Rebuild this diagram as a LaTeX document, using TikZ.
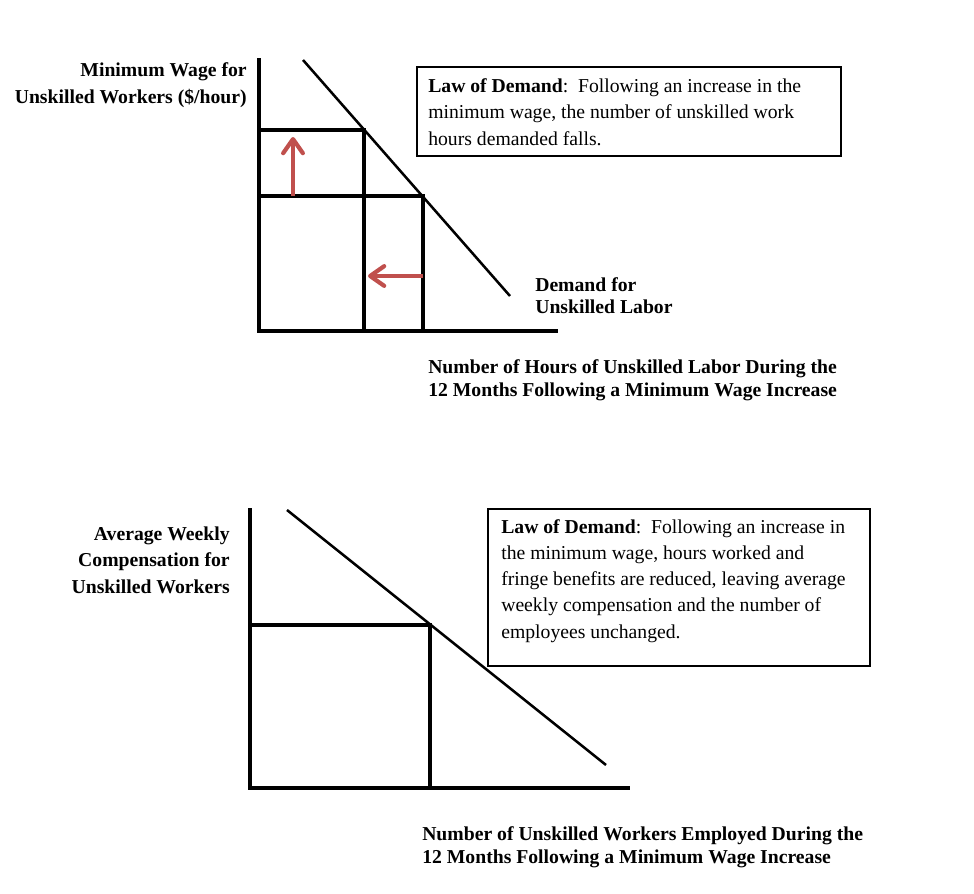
\documentclass[tikz,border=0pt]{standalone}
\usepackage{fontspec}
\setmainfont{Liberation Serif}
\usetikzlibrary{arrows.meta}
\definecolor{arrowred}{RGB}{192,80,77}

\tikzset{
    axisline/.style={line width=2.6pt, line cap=rect},
    gridline/.style={line width=2.3pt},
    demandline/.style={line width=1.8pt},
    shiftarrow/.style={line width=3pt, draw=arrowred,
        -{Straight Barb[length=10pt, width=14pt, round]}},
    lawframe/.style={line width=0.8pt},
    axislabel/.style={font=\bfseries\fontsize{14}{16.2}\selectfont, inner sep=0pt},
    sidelabel/.style={font=\bfseries\fontsize{14}{18.5}\selectfont, inner sep=0pt, align=right},
    lawtext/.style={font=\fontsize{14}{18.5}\selectfont, inner sep=0pt, align=left},
}

\begin{document}
\begin{tikzpicture}[x=0.025cm, y=-0.025cm]
    \useasboundingbox (0,0) rectangle (974,894);

    % Top panel: hours of unskilled labor
    \coordinate (hO) at (259,331);
    \coordinate (hTop) at (259,60);
    \coordinate (hEnd) at (556,331);
    \coordinate (hDa) at (303,60);
    \coordinate (hDb) at (510,296);
    \coordinate (hHigh) at (364,130);
    \coordinate (hLow) at (423,196);
    \draw[axisline] (hTop) -- (hO) -- (hEnd);
    \draw[demandline] (hDa) -- (hDb);
    \draw[gridline] (hHigh -| hO) -- (hHigh) -- (hHigh |- hO);
    \draw[gridline] (hLow -| hO) -- (hLow) -- (hLow |- hO);

    % Wage up, hours down
    \coordinate (upTail) at (293,196);
    \coordinate (upTip) at (293,137);
    \coordinate (leftTail) at (423,276);
    \coordinate (leftTip) at (368,276);
    \draw[shiftarrow] (upTail) -- (upTip);
    \draw[shiftarrow] (leftTail) -- (leftTip);

    % Top panel labels (base = last line)
    \node[sidelabel, anchor=base east] (hYlabel) at (247,103)
        {Minimum Wage for\\Unskilled Workers (\$/hour)};
    \node[axislabel, align=left, anchor=base west, font=\bfseries\fontsize{14}{15.6}\selectfont]
        (hDlabel) at (535,313) {Demand for\\Unskilled Labor};
    \node[axislabel, align=left, anchor=base west] (hXlabel) at (428,396)
        {Number of Hours of Unskilled Labor During the\\12 Months Following a Minimum Wage Increase};

    % Top panel box
    \coordinate (hBoxA) at (417,67);
    \coordinate (hBoxB) at (841,156);
    \draw[lawframe] (hBoxA) rectangle (hBoxB);
    \node[lawtext, anchor=base west] (hLaw) at (428,145)
        {\textbf{Law of Demand}:\ \ Following an increase in the\\
         minimum wage, the number of unskilled work\\
         hours demanded falls.};

    % Bottom panel: unskilled workers employed
    \coordinate (wO) at (250,788);
    \coordinate (wTop) at (250,510);
    \coordinate (wEnd) at (628,788);
    \coordinate (wDa) at (287,510);
    \coordinate (wDb) at (606,765);
    \coordinate (wEq) at (430,625);
    \draw[axisline] (wTop) -- (wO) -- (wEnd);
    \draw[demandline] (wDa) -- (wDb);
    \draw[gridline] (wEq -| wO) -- (wEq) -- (wEq |- wO);

    % Bottom panel labels
    \node[sidelabel, anchor=base east] (wYlabel) at (230,593)
        {Average Weekly\\Compensation for\\Unskilled Workers};
    \node[axislabel, align=left, anchor=base west] (wXlabel) at (422,863)
        {Number of Unskilled Workers Employed During the\\12 Months Following a Minimum Wage Increase};

    % Bottom panel box
    \coordinate (wBoxA) at (488,509);
    \coordinate (wBoxB) at (870,666);
    \draw[lawframe] (wBoxA) rectangle (wBoxB);
    \node[lawtext, anchor=base west] (wLaw) at (501,638)
        {\textbf{Law of Demand}:\ \ Following an increase in\\
         the minimum wage, hours worked and\\
         fringe benefits are reduced, leaving average\\
         weekly compensation and the number of\\
         employees unchanged.};
\end{tikzpicture}
\end{document}
